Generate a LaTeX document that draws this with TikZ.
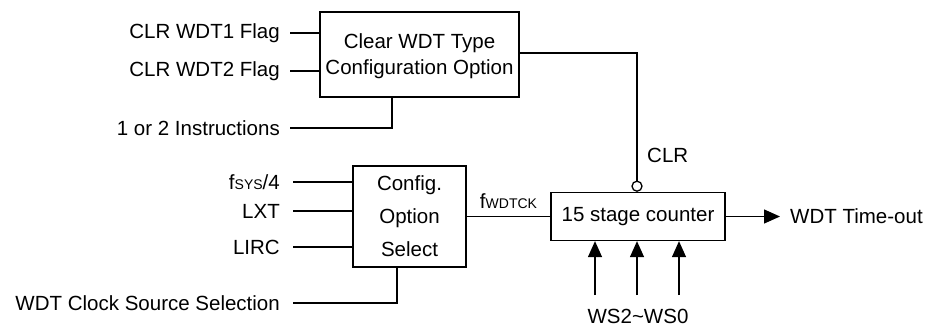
\documentclass[tikz,border=0pt]{standalone}
\usepackage{fontspec}
\setmainfont{Liberation Sans}
\usetikzlibrary{arrows.meta,positioning}

\tikzstyle{block} = [draw, line width=1.3pt, inner sep=0pt, align=center, font=\fontsize{20.5}{26}\selectfont]
\tikzstyle{sig} = [anchor=east, inner sep=0pt, inner xsep=10pt, font=\fontsize{20.5}{24}\selectfont]
\tikzstyle{wire} = [line width=1.3pt]
\tikzstyle{arr} = [line width=1.3pt, -{Triangle[length=16pt,width=14pt]}]
\newcommand{\smallcap}[1]{{\fontsize{14}{14}\selectfont #1}}

\begin{document}
\begin{tikzpicture}[x=1pt, y=-1pt]
        \useasboundingbox (0,0) rectangle (928,326);
        % blocks
        \node[block, minimum width=199pt, minimum height=85pt, text depth=0pt] (clr) at (419.5,54.5) {Clear WDT Type\\Configuration Option};
        \node[block, minimum width=113pt, minimum height=101pt, font=\fontsize{20.5}{33}\selectfont] (cfg) at (409.5,216.5) {Config.\\Option\\Select};
        \node[block, minimum width=174pt, minimum height=48pt] (cnt) at (638,216.5) {15 stage counter};
        \node[draw, circle, line width=1.3pt, minimum size=10pt, inner sep=0pt, anchor=south] (inv) at ([xshift=-1pt]cnt.north) {};
        % inputs of the clear block
        \node[sig] (wa) at (290,33) {CLR WDT1 Flag};
        \node[sig] (wb) at (290,71) {CLR WDT2 Flag};
        \node[sig] (ins) at (290,128) {1 or 2 Instructions};
        \draw[wire] (wa.east) -- (clr.west |- wa.east);
        \draw[wire] (wb.east) -- (clr.west |- wb.east);
        \draw[wire] (ins.east) -| ([xshift=-27.5pt]clr.south);
        % inputs of the clock select
        \node[sig, inner xsep=0pt] (fs) at (280,182) {f\smallcap{SYS}/4};
        \node[sig, inner xsep=0pt] (lxt) at (280,211) {LXT};
        \node[sig, inner xsep=0pt] (lirc) at (280,247) {LIRC};
        \node[sig, inner xsep=0pt] (src) at (280,303) {WDT Clock Source Selection};
        \draw[wire] ([xshift=13pt]fs.east) -- (cfg.west |- fs.east);
        \draw[wire] ([xshift=13pt]lxt.east) -- (cfg.west |- lxt.east);
        \draw[wire] ([xshift=13pt]lirc.east) -- (cfg.west |- lirc.east);
        \draw[wire] ([xshift=13pt]src.east) -| ([xshift=-12.5pt]cfg.south);
        % counter
        \draw[wire] (cfg.east) -- node[above=4pt, font=\fontsize{20.5}{24}\selectfont] (fck) {f\smallcap{WDTCK}} (cnt.west);
        \draw[wire] ([yshift=1.5pt]clr.east) -| (inv.north);
        \node[anchor=west, inner sep=0pt, font=\fontsize{20.5}{24}\selectfont] (clrl) at (647,155) {CLR};
        \node[anchor=west, inner sep=0pt, inner xsep=10pt, font=\fontsize{20.5}{24}\selectfont] (out) at (780,216.5) {WDT Time-out};
        \draw[arr] (cnt.east) -- (out.west);
        \node[anchor=north, inner sep=0pt, font=\fontsize{20.5}{24}\selectfont] (ws) at (638,309) {WS2\textasciitilde WS0};
        \foreach \x in {-43,-1,41}
            \draw[arr] ([xshift=\x pt, yshift=14pt]ws.north) -- ([xshift=\x pt]cnt.south);
\end{tikzpicture}
\end{document}
